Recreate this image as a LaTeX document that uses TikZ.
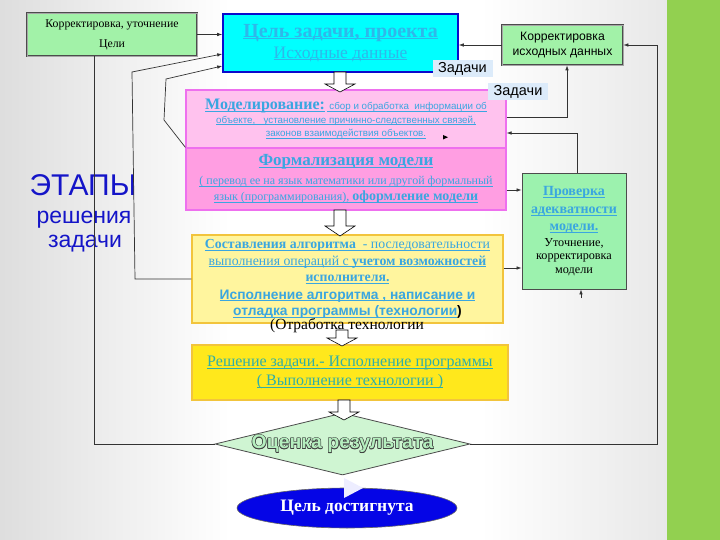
\documentclass[tikz,border=0pt]{standalone}
\usepackage{fontspec}
\setmainfont{Liberation Serif}
\setsansfont{Liberation Sans}
\usetikzlibrary{arrows.meta,shapes.geometric,calc}
\definecolor{bggreen}{HTML}{92D050}
\definecolor{mint}{HTML}{A2F2A8}
\definecolor{cyanfill}{HTML}{00FFFF}
\definecolor{cyanborder}{HTML}{0A0ACC}
\definecolor{goaltext}{HTML}{2EB8EA}
\definecolor{pinkA}{HTML}{FFC2EE}
\definecolor{pinkB}{HTML}{FF9EE2}
\definecolor{pinkborder}{HTML}{EE70EE}
\definecolor{linkblue}{HTML}{3AA6E0}
\definecolor{yelA}{HTML}{FFF59E}
\definecolor{yelB}{HTML}{FFE81C}
\definecolor{yelborder}{HTML}{F2C43C}
\definecolor{tealtext}{HTML}{2FAFA8}
\definecolor{checkfill}{HTML}{9CF2AE}
\definecolor{diafill}{HTML}{CFF5D2}
\definecolor{ocfill}{HTML}{B5EEBE}
\definecolor{reached}{HTML}{0505E6}
\definecolor{etapy}{HTML}{1414C8}
\definecolor{zadfill}{HTML}{DCEBFA}
\newcommand\dnarrow[4]{%
  \filldraw[fill=white,draw=black,line width=0.6pt] (#1-6,#2) -- (#1+6,#2) -- (#1+6,#3) -- (#1+15,#3) -- (#1,#4) -- (#1-15,#3) -- (#1-6,#3) -- cycle;}
\newcommand\fsz[1]{\fontsize{#1}{#1}\selectfont}
\newcommand\fsl[2]{\fontsize{#1}{#2}\selectfont}
\newcommand\uln[1]{\setbox0\hbox{#1}\rlap{\rule[-1.7pt]{\wd0}{0.6pt}}\box0}
\begin{document}
\begin{tikzpicture}[x=1pt,y=-1pt,
  box/.style={draw, inner sep=0pt, align=center},
  dbox/.style={box, fill=mint, draw=black!70, double=black!35, double distance=0.7pt, line width=0.7pt},
  arr/.style={draw=black!80, line width=0.7pt, -{Latex[length=5pt,width=3.6pt]}},
  ln/.style={draw=black!80, line width=0.7pt},
  zad/.style={fill=zadfill, inner sep=0pt, minimum width=60pt, minimum height=17pt, font=\sffamily\fsz{14.5}}]
\useasboundingbox (0,0) rectangle (720,540);
% background
\fill[white] (0,0) rectangle (720,540);
\shade[left color=black!13, right color=white] (0,0) rectangle (230,540);
\shade[left color=white, right color=black!9] (480,0) rectangle (667,540);
\fill[bggreen] (667,0) rectangle (720,540);

% boxes
\node[dbox, minimum width=170pt, minimum height=43pt, font=\fsl{11.8}{14}] (kc) at (112,34.5)
  {Корректировка, уточнение\\[6pt]Цели};
\node[box, fill=cyanfill, draw=cyanborder, line width=1.6pt, minimum width=235pt, minimum height=58pt, text=goaltext, font=\fsl{17.5}{21}] (goal) at (340.5,43)
  {\uln{\fsz{20}\bfseries Цель задачи, проекта}\\\uln{Исходные данные}};
\node[dbox, minimum width=121pt, minimum height=40pt, font=\sffamily\fsl{12.2}{14.5}] (kid) at (562.5,45)
  {Корректировка\\исходных данных};
\node[box, fill=pinkA, draw=pinkborder, line width=1.2pt, minimum width=320pt, minimum height=58pt, text=linkblue, font=\sffamily\fsl{9.8}{13.5}] (model) at (346,119)
  {\uln{\rmfamily\bfseries\fsz{16}Моделирование:}\,\uln{ сбор и обработка \ информации об}\\
   \uln{объекте, \ \ установление причинно-следственных связей,}\\
   \uln{законов взаимодействия объектов.}};
\node[box, fill=pinkB, draw=pinkborder, line width=1.2pt, minimum width=320pt, minimum height=62pt, text=linkblue, font=\fsl{12}{16}] (formal) at (346,179)
  {\uln{\fsz{17}\bfseries Формализация модели}\\[3pt]
   \uln{( перевод ее на язык математики или другой формальный}\\
   \uln{язык (программирования), \fsz{14}\bfseries оформление модели}};
\node[box, fill=checkfill, draw=black!70, line width=0.8pt, minimum width=104pt, minimum height=116pt, text=linkblue, font=\rmfamily\fsl{12.2}{13.5}] (check) at (574,231)
  {\uln{\fsz{14}\bfseries Проверка}\\[4.5pt]\uln{\fsz{14}\bfseries адекватности}\\[4pt]\uln{\fsz{14}\bfseries модели.}\\[2pt]
   \color{black}Уточнение,\\\color{black}корректировка\\\color{black}модели};
\node[box, fill=yelA, draw=yelborder, line width=1.4pt, minimum width=311pt, minimum height=88pt, text=linkblue, font=\fsl{13.8}{16.5}] (alg) at (347.5,279)
  {\uln{\bfseries Составления алгоритма}\uln{\ \ - последовательности}\\
   \uln{выполнения операций с \bfseries учетом возможностей}\\
   \uln{\bfseries исполнителя.}\\[1pt]
   \uln{\sffamily\bfseries Исполнение алгоритма , написание и}\\
   \uln{\sffamily\bfseries отладка программы (технологии}\textcolor{black}{\sffamily\bfseries )}};
\node[inner sep=0pt, font=\fsz{15.5}] (otr) at (347,326) {(Отработка технологии};
\node[box, fill=yelB, draw=yelborder, line width=1.4pt, minimum width=316pt, minimum height=55pt, text=tealtext, font=\fsl{16}{19}] (sol) at (350,372.5)
  {\uln{Решение задачи.- Исполнение программы}\\\uln{( Выполнение технологии )}};
\node[diamond, draw=black!70, line width=0.8pt, fill=diafill, minimum width=255pt, minimum height=62pt, inner sep=0pt] (diam) at (342.5,444) {};
\foreach \dx/\dy in {0.6/0,-0.6/0,0/0.6,0/-0.6,0.45/0.45,-0.45/0.45,0.45/-0.45,-0.45/-0.45}
  \node[inner sep=0pt, text=black!75, font=\sffamily\bfseries\fsz{19.5}] at ($(diam.center)+(\dx,\dy)$) {Оценка результата};
\node[inner sep=0pt, text=ocfill, font=\sffamily\bfseries\fsz{19.5}] (diamtext) at (diam.center) {Оценка результата};
\node[ellipse, draw=black!60, line width=0.6pt, fill=reached, minimum width=220pt, minimum height=40pt, inner sep=0pt, text=white, font=\bfseries\fsz{17.5}] (reach) at (347,508) {Цель достигнута};

% labels Задачи
\node[zad] (z1) at (462.5,68.5) {Задачи};
\node[zad] (z2) at (518,91.5) {Задачи};

% left text
\node[text=etapy, font=\sffamily\fsz{30}, inner sep=0pt] (et1) at (83,185) {ЭТАПЫ};
\node[text=etapy, font=\sffamily\fsz{23}, inner sep=0pt] (et2) at (84,220) {решения};
\node[text=etapy, font=\sffamily\fsz{23}, inner sep=0pt] (et3) at (85,244) {задачи};

% block arrows
\dnarrow{340}{72}{84}{92}
\dnarrow{340}{210}{226}{236}
\dnarrow{342}{330}{338}{346}
\dnarrow{344}{400}{412}{420}

% small marks
\fill[blue!7] (344,478) -- (344,498) -- (363,488) -- cycle;
\fill[black] (443,135) -- (443,139.5) -- (448,137.2) -- cycle;

% connectors
\coordinate (kbot) at (94,444);
\draw[arr] (kc.east) -- (goal.west |- kc.east);
\draw[ln] (kc.south -| kbot) -- (kbot) -- (diam.west);
\coordinate (la1) at (135,279);
\coordinate (la2) at (132,72);
\draw[arr] (alg.west) -- (la1) -- (la2) -- (goal.west |- 0,54);
\coordinate (lb1) at (164,120);
\coordinate (lb2) at (166,79);
\draw[arr] (formal.north west) -- (lb1) -- (lb2) -- (goal.west |- 0,66);
\draw[arr] (kid.west) -- (goal.east |- kid.west);
\coordinate (rb) at (657,444);
\coordinate (rt) at (657,45);
\draw[arr] (diam.east) -- (rb) -- (rt) -- (kid.east |- rt);
\coordinate (m1) at (567,117);
\draw[arr] (model.east |- m1) -- (m1) -- (kid.south -| m1);
\coordinate (c1) at (577,133);
\draw[arr] (check.north -| c1) -- (c1) -- (model.east |- c1);
\draw[arr] (formal.east |- 0,190) -- (check.west |- 0,190);
\draw[arr] (alg.east |- 0,268) -- (check.west |- 0,268);
\coordinate (cs) at (581,298);
\draw[arr] (cs) -- (check.south -| cs);
\end{tikzpicture}
\end{document}
